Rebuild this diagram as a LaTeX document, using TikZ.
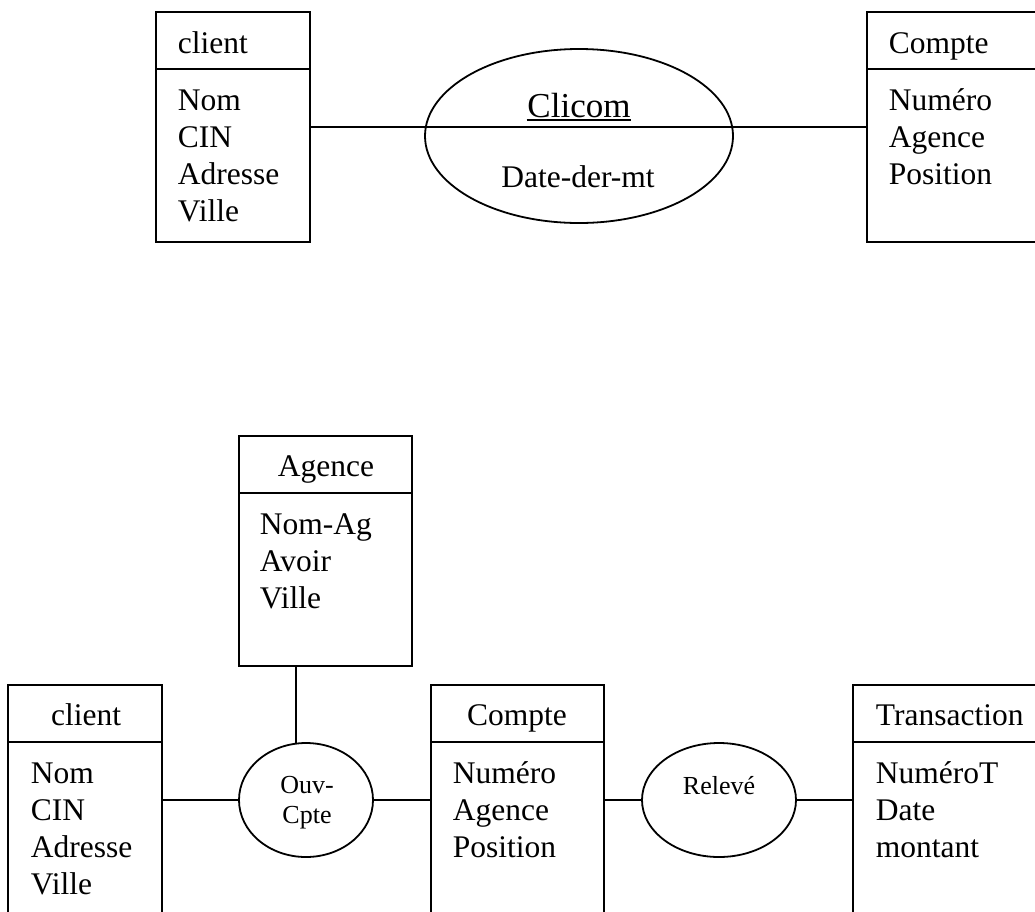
\documentclass[tikz,border=0pt]{standalone}
\usepackage{fontspec}
\setmainfont{Liberation Serif}
\usetikzlibrary{shapes.geometric}
\begin{document}
\begin{tikzpicture}[x=1pt,y=-1pt,line width=1.8pt,
  entity/.style={draw, rectangle, minimum height=230pt, inner sep=0pt},
  assoc/.style={draw, ellipse, inner sep=0pt},
  attr/.style={inner sep=0pt, anchor=base west, font=\fontsize{31.5}{37}\selectfont},
  title/.style={inner sep=0pt, anchor=base, font=\fontsize{31.5}{37}\selectfont},
  small/.style={inner sep=0pt, anchor=base, font=\fontsize{26}{30}\selectfont}]
\clip (0,0) rectangle (1035,911);

% entity boxes
\node[entity, minimum width=154pt] (cl1) at (233,127) {};
\node[entity, minimum width=176pt] (co1) at (955,127) {};
\node[entity, minimum width=173pt] (ag)  at (325.5,551) {};
\node[entity, minimum width=154pt] (cl2) at (85,800) {};
\node[entity, minimum width=173pt] (co2) at (517.5,800) {};
\node[entity, minimum width=190pt] (tr)  at (948,800) {};

% header separators
\foreach \n in {cl1,co1,ag,cl2,co2,tr}
  \draw ([yshift=-57.5pt]\n.north west) -- ([yshift=-57.5pt]\n.north east);

% associations
\node[assoc, minimum width=308pt, minimum height=174pt] (clicom) at (579,136) {};
\node[assoc, minimum width=134pt, minimum height=114pt] (ouv) at (306,800) {};
\node[assoc, minimum width=154pt, minimum height=114pt] (relv) at (719,800) {};

% links
\draw (cl1.east) -- (co1.west);
\draw (cl2.east) -- (ouv.west);
\draw (ouv.east) -- (co2.west);
\draw (co2.east) -- (relv.west);
\draw (relv.east) -- (tr.west);
\draw (ouv.100) -- (ouv.100 |- ag.south);

% top client
\node[attr] (cl1-t) at (177,53) {client};
\foreach \t [count=\i] in {Nom,CIN,Adresse,Ville}
  \node[attr] (cl1-\i) at (177,{110+37*(\i-1)}) {\t};

% top Compte
\node[attr] (co1-t) at (888,53) {Compte};
\foreach \t [count=\i] in {Numéro,Agence,Position}
  \node[attr] (co1-\i) at (888,{110+37*(\i-1)}) {\t};

% Clicom
\node[inner sep=0pt, anchor=base, font=\fontsize{35}{40}\selectfont] (clt) at (579,117) {Clicom};
\draw[line width=1.5pt] ([yshift=-3pt]clt.base west) -- ([yshift=-3pt]clt.base east);
\node[title] (dd) at (578,187) {Date-der-mt};

% Agence
\node[title] (ag-t) at (326,476) {Agence};
\foreach \t [count=\i] in {Nom-Ag,Avoir,Ville}
  \node[attr] (ag-\i) at (259,{534+37*(\i-1)}) {\t};

% bottom client
\node[title] (cl2-t) at (86,725) {client};
\foreach \t [count=\i] in {Nom,CIN,Adresse,Ville}
  \node[attr] (cl2-\i) at (30,{783+37*(\i-1)}) {\t};

% bottom Compte
\node[title] (co2-t) at (517,725) {Compte};
\foreach \t [count=\i] in {Numéro,Agence,Position}
  \node[attr] (co2-\i) at (452,{783+37*(\i-1)}) {\t};

% Transaction
\node[attr] (tr-t) at (875,725) {Transaction};
\foreach \t [count=\i] in {NuméroT,Date,montant}
  \node[attr] (tr-\i) at (875,{783+37*(\i-1)}) {\t};

% association labels
\node[small] (ouv-1) at (307,793) {Ouv-};
\node[small] (ouv-2) at (307,823) {Cpte};
\node[small] (relv-t) at (719,794) {Relevé};
\end{tikzpicture}
\end{document}
